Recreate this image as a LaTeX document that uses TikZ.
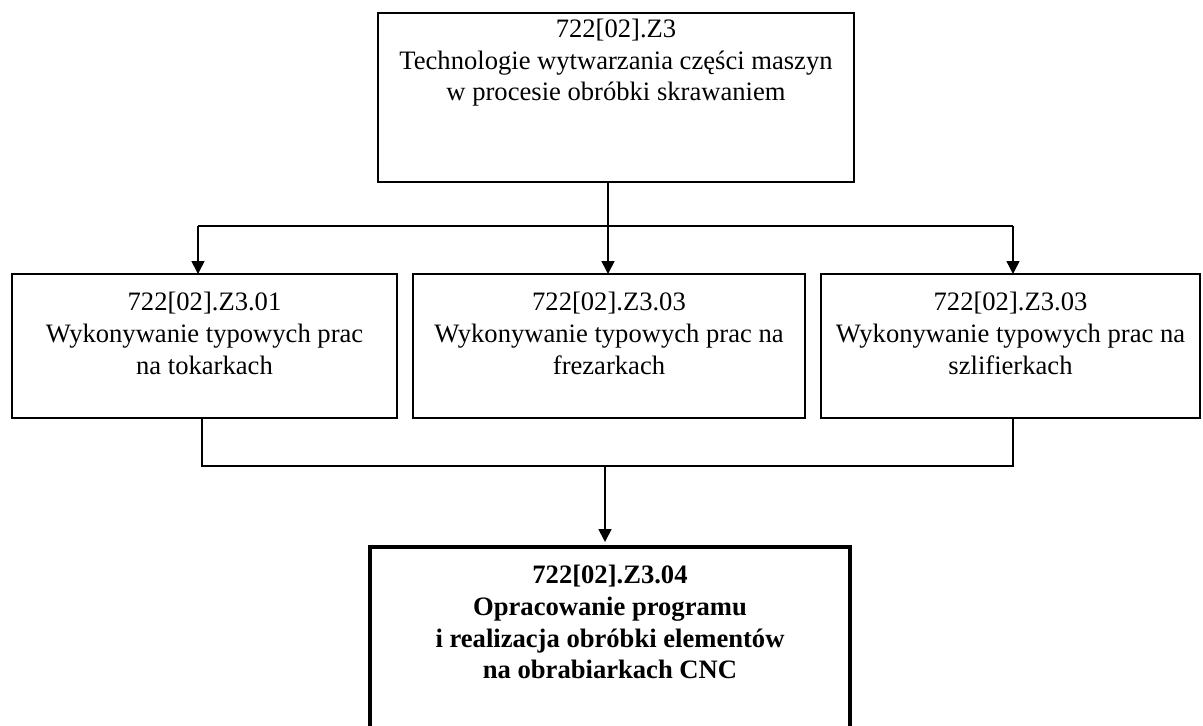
\documentclass[tikz,border=0pt]{standalone}
\usepackage{fontspec}
\setmainfont{Liberation Serif}
\usetikzlibrary{positioning,arrows.meta}

\begin{document}
\begin{tikzpicture}[x=0.5pt, y=-0.5pt, line width=0.8pt,
    box/.style={draw, inner sep=0pt, outer sep=0pt, anchor=north west},
    txt/.style={align=center, inner sep=0pt, font=\fontsize{13.3}{15.8}\selectfont},
    arr/.style={-{Triangle[width=6.5pt,length=6.5pt]}}]
  % 1. ramka obrazka
  \path[use as bounding box, clip] (0,0) rectangle (1203,725);

  % 2. bloki
  \node[box, minimum width=238pt, minimum height=84.5pt] (z3) at (378,13) {};
  \node[box, minimum width=192.5pt, minimum height=72pt] (z301) at (12,274) {};
  \node[box, minimum width=196pt, minimum height=72pt] (z302) at (413,274) {};
  \node[box, minimum width=189.5pt, minimum height=72pt] (z303) at (821,274) {};
  \node[box, line width=2pt, minimum width=240pt, minimum height=110pt] (z304) at (370,547) {};

  % 3. teksty w blokach
  \node[txt, below=2.6pt of z3.north] (z3t)
    {722[02].Z3\\Technologie wytwarzania części maszyn\\w procesie obróbki skrawaniem};
  \node[txt, below=8.8pt of z301.north] (z301t)
    {722[02].Z3.01\\Wykonywanie typowych prac\\na tokarkach};
  \node[txt, below=8.8pt of z302.north] (z302t)
    {722[02].Z3.03\\Wykonywanie typowych prac na\\frezarkach};
  \node[txt, below=8.8pt of z303.north] (z303t)
    {722[02].Z3.03\\Wykonywanie typowych prac na\\szlifierkach};
  \node[txt, font=\fontsize{13.3}{15.8}\selectfont\bfseries, below=8.8pt of z304.north] (z304t)
    {722[02].Z3.04\\Opracowanie programu\\i realizacja obróbki elementów\\na obrabiarkach CNC};

  % 4. rozgalezienie w dol
  \coordinate (rozg) at (608,226);
  \coordinate (lg) at (198,226);
  \coordinate (pg) at (1013,226);
  \draw (z3.south -| rozg) -- (rozg);
  \draw (lg) -- (pg);
  \draw[arr] (lg) -- (lg |- z301.north);
  \draw[arr] (rozg) -- (rozg |- z302.north);
  \draw[arr] (pg) -- (pg |- z303.north);

  % 5. zbieranie do bloku CNC
  \coordinate (ld) at (202,466);
  \coordinate (pd) at (1013,466);
  \coordinate (sd) at (605,466);
  \draw (z301.south -| ld) -- (ld) -- (pd) -- (z303.south -| pd);
  \draw[arr, shorten >=2.5pt] (sd) -- (sd |- z304.north);
\end{tikzpicture}
\end{document}
